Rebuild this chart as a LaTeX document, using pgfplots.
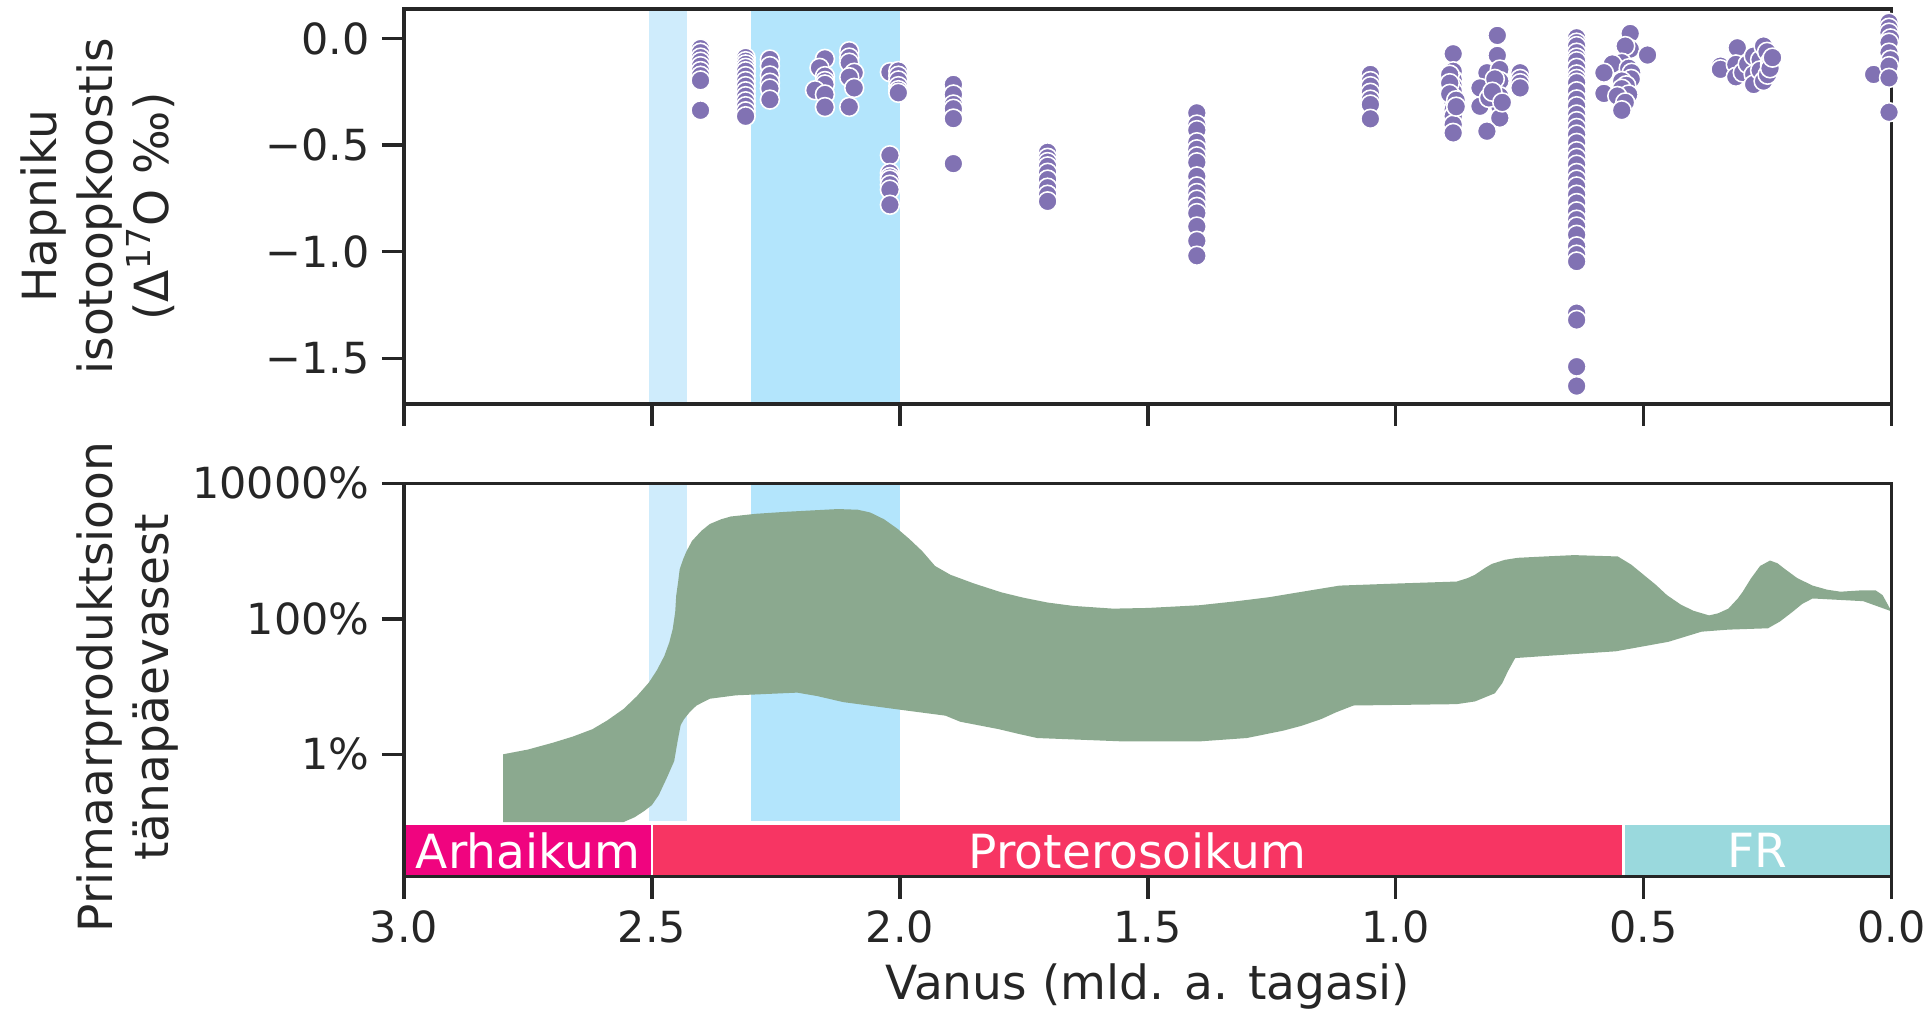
\documentclass[border=0pt]{standalone}
\usepackage{fontspec}
\setmainfont{DejaVu Sans}
\usepackage{pgfplots}
\pgfplotsset{compat=1.18}
\definecolor{axcol}{HTML}{262626}
\definecolor{purp}{HTML}{8172B3}
\definecolor{band}{HTML}{8BA98F}
\definecolor{blueA}{HTML}{CFECFC}
\definecolor{blueB}{HTML}{B3E5FC}
\definecolor{arch}{HTML}{F0047F}
\definecolor{prot}{HTML}{F73563}
\definecolor{phan}{HTML}{9AD9DD}
\pgfplotsset{
 myaxis/.style={
  scale only axis, width=148.75mm,
  xmin=0, xmax=3, x dir=reverse,
  axis on top, clip=true,
  axis line style={axcol, line width=0.95pt},
  tick align=outside, major tick length=2.2mm,
  every tick/.style={axcol, line width=1pt},
  tick pos=left,
  xtick={0,0.5,1,1.5,2,2.5,3},
  tick label style={font=\fontsize{12.2}{14}\selectfont, text=axcol},
  label style={font=\fontsize{13.4}{16}\selectfont, text=axcol, align=center},
  /pgf/number format/assume math mode=true,
 }
}
\pgfplotstableread{
x y
2.402 -0.048
2.402 -0.067
2.402 -0.090
2.402 -0.109
2.402 -0.130
2.402 -0.153
2.402 -0.175
2.402 -0.197
2.402 -0.337
2.311 -0.090
2.311 -0.107
2.311 -0.122
2.311 -0.138
2.311 -0.154
2.311 -0.177
2.311 -0.200
2.311 -0.224
2.311 -0.248
2.311 -0.271
2.311 -0.295
2.311 -0.318
2.311 -0.342
2.311 -0.365
2.262 -0.099
2.262 -0.130
2.262 -0.174
2.262 -0.208
2.262 -0.235
2.262 -0.287
2.151 -0.096
2.162 -0.138
2.151 -0.177
2.151 -0.200
2.151 -0.216
2.171 -0.243
2.151 -0.263
2.151 -0.322
2.102 -0.060
2.102 -0.090
2.102 -0.114
2.092 -0.161
2.102 -0.182
2.092 -0.232
2.102 -0.321
2.020 -0.158
2.003 -0.153
2.003 -0.175
2.003 -0.197
2.003 -0.224
2.003 -0.243
2.003 -0.255
2.020 -0.548
2.020 -0.631
2.020 -0.650
2.020 -0.662
2.020 -0.686
2.020 -0.709
2.020 -0.780
1.892 -0.216
1.892 -0.263
1.892 -0.310
1.892 -0.330
1.892 -0.376
1.892 -0.587
1.702 -0.534
1.702 -0.560
1.702 -0.580
1.702 -0.600
1.702 -0.630
1.702 -0.662
1.702 -0.700
1.702 -0.733
1.702 -0.764
1.401 -0.349
1.401 -0.404
1.401 -0.430
1.401 -0.487
1.401 -0.520
1.401 -0.553
1.401 -0.581
1.401 -0.647
1.401 -0.694
1.401 -0.725
1.401 -0.756
1.401 -0.790
1.401 -0.819
1.401 -0.882
1.401 -0.949
1.401 -1.019
1.051 -0.169
1.051 -0.200
1.051 -0.224
1.051 -0.255
1.051 -0.287
1.051 -0.310
1.051 -0.377
0.884 -0.072
0.884 -0.154
0.884 -0.193
0.884 -0.224
0.884 -0.248
0.884 -0.279
0.884 -0.302
0.884 -0.334
0.884 -0.365
0.884 -0.404
0.884 -0.443
0.891 -0.170
0.891 -0.210
0.891 -0.260
0.878 -0.290
0.878 -0.320
0.795 0.014
0.795 -0.080
0.816 -0.161
0.830 -0.232
0.830 -0.318
0.796 -0.224
0.790 -0.146
0.790 -0.200
0.790 -0.271
0.790 -0.318
0.790 -0.373
0.816 -0.435
0.812 -0.279
0.800 -0.190
0.805 -0.250
0.785 -0.300
0.749 -0.161
0.749 -0.190
0.749 -0.210
0.749 -0.232
0.635 0.003
0.635 -0.020
0.635 -0.036
0.635 -0.067
0.635 -0.090
0.635 -0.107
0.635 -0.138
0.635 -0.169
0.635 -0.190
0.635 -0.208
0.635 -0.248
0.635 -0.286
0.635 -0.318
0.635 -0.357
0.635 -0.388
0.635 -0.420
0.635 -0.451
0.635 -0.490
0.635 -0.529
0.635 -0.560
0.635 -0.592
0.635 -0.631
0.635 -0.662
0.635 -0.694
0.635 -0.733
0.635 -0.772
0.635 -0.811
0.635 -0.850
0.635 -0.882
0.635 -0.921
0.635 -0.975
0.635 -1.014
0.635 -1.046
0.635 -1.288
0.635 -1.320
0.635 -1.539
0.635 -1.630
0.527 0.023
0.527 -0.050
0.537 -0.036
0.492 -0.078
0.544 -0.114
0.563 -0.120
0.530 -0.140
0.580 -0.161
0.524 -0.161
0.525 -0.190
0.544 -0.200
0.535 -0.220
0.544 -0.236
0.580 -0.258
0.530 -0.263
0.553 -0.270
0.537 -0.300
0.544 -0.337
0.345 -0.130
0.345 -0.145
0.311 -0.044
0.314 -0.122
0.314 -0.180
0.300 -0.160
0.290 -0.120
0.278 -0.083
0.278 -0.169
0.278 -0.216
0.265 -0.100
0.265 -0.150
0.258 -0.036
0.258 -0.200
0.251 -0.063
0.250 -0.170
0.245 -0.110
0.245 -0.125
0.245 -0.140
0.240 -0.090
0.036 -0.169
0.005 0.074
0.005 0.050
0.005 0.027
0.002 0.000
0.005 -0.020
0.005 -0.067
0.002 -0.100
0.005 -0.130
0.005 -0.185
0.005 -0.346
}\isotope
\pgfplotstableread{
x y
2.800 -1.00
2.800 0.00
2.750 0.07
2.700 0.17
2.660 0.26
2.620 0.37
2.590 0.50
2.557 0.67
2.530 0.86
2.506 1.06
2.490 1.24
2.475 1.45
2.465 1.65
2.458 1.85
2.453 2.10
2.451 2.34
2.447 2.55
2.444 2.73
2.437 2.88
2.430 3.00
2.419 3.15
2.400 3.30
2.383 3.40
2.360 3.47
2.341 3.51
2.290 3.55
2.228 3.58
2.125 3.62
2.085 3.61
2.060 3.57
2.032 3.47
2.005 3.33
1.981 3.18
1.955 3.00
1.929 2.78
1.898 2.65
1.850 2.52
1.795 2.39
1.750 2.31
1.702 2.24
1.650 2.19
1.570 2.15
1.500 2.16
1.396 2.20
1.320 2.26
1.254 2.32
1.180 2.41
1.113 2.49
1.000 2.52
0.877 2.55
0.855 2.60
0.840 2.65
0.820 2.75
0.806 2.81
0.780 2.87
0.754 2.90
0.700 2.92
0.640 2.94
0.552 2.92
0.525 2.80
0.500 2.65
0.475 2.50
0.453 2.35
0.425 2.21
0.400 2.12
0.368 2.05
0.350 2.08
0.329 2.15
0.310 2.30
0.300 2.40
0.284 2.59
0.265 2.78
0.245 2.86
0.230 2.82
0.216 2.74
0.190 2.60
0.159 2.49
0.130 2.43
0.103 2.40
0.060 2.42
0.032 2.42
0.018 2.35
0.000 2.11
0.057 2.26
0.159 2.30
0.180 2.22
0.200 2.10
0.225 1.96
0.249 1.86
0.329 1.84
0.383 1.81
0.450 1.66
0.556 1.52
0.700 1.45
0.759 1.42
0.774 1.22
0.785 1.05
0.800 0.90
0.840 0.78
0.877 0.74
1.085 0.72
1.120 0.62
1.150 0.52
1.190 0.42
1.226 0.35
1.300 0.24
1.396 0.19
1.550 0.19
1.723 0.24
1.760 0.30
1.800 0.37
1.878 0.48
1.908 0.57
1.981 0.64
2.114 0.77
2.167 0.86
2.207 0.91
2.331 0.87
2.383 0.82
2.410 0.72
2.424 0.62
2.435 0.52
2.442 0.43
2.448 0.20
2.455 -0.10
2.470 -0.35
2.486 -0.60
2.500 -0.75
2.516 -0.84
2.535 -0.93
2.557 -1.00
}\production
\begin{document}
\begin{tikzpicture}
\path[use as bounding box] (0,0) rectangle (193.2mm,101.1mm);
% ---------- top panel
\begin{axis}[myaxis,
  at={(40.4mm,60.7mm)}, anchor=south west, height=39.5mm,
  ymin=-1.714, ymax=0.138,
  xticklabels={},
  ytick={-1.5,-1,-0.5,0},
  yticklabels={−1.5,−1.0,−0.5,0.0},
  ylabel={Hapniku\\isotoopkoostis\\(Δ\textsuperscript{17}O ‰)},
  ylabel style={at={(axis description cs:-0.206,0.5)}, anchor=center},
]
\addplot[fill=blueA, draw=none] coordinates {(2.505,-2) (2.43,-2) (2.43,1) (2.505,1)} -- cycle;
\addplot[fill=blueB, draw=none] coordinates {(2.3,-2) (2.0,-2) (2.0,1) (2.3,1)} -- cycle;
\addplot[only marks, mark=*, mark size=2.7pt, mark options={fill=purp, draw=white, line width=0.45pt}] table[x=x,y=y] {\isotope};
\end{axis}
% ---------- bottom panel
\begin{axis}[myaxis,
  at={(40.4mm,13.43mm)}, anchor=south west, height=39.34mm,
  ymin=-1.807, ymax=4.0,
  xticklabels={0.0,0.5,1.0,1.5,2.0,2.5,3.0},
  ytick={0,2,4},
  yticklabels={1\%,100\%,10000\%},
  xlabel={Vanus (mld. a. tagasi)},
  xlabel style={at={(axis description cs:0.5,-0.311)}, anchor=base},
  ylabel={Primaarproduktsioon\\tänapäevasest},
  ylabel style={at={(axis description cs:-0.186,0.482)}, anchor=center},
]
\addplot[fill=blueA, draw=none] coordinates {(2.505,-0.985) (2.43,-0.985) (2.43,4.2) (2.505,4.2)} -- cycle;
\addplot[fill=blueB, draw=none] coordinates {(2.3,-0.985) (2.0,-0.985) (2.0,4.2) (2.3,4.2)} -- cycle;
\addplot[fill=band, draw=none] table[x=x,y=y] {\production} -- cycle;
\addplot[fill=arch, draw=none] coordinates {(3.05,-1.9) (2.5,-1.9) (2.5,-1.04) (3.05,-1.04)} -- cycle;
\addplot[fill=prot, draw=none] coordinates {(2.5,-1.9) (0.541,-1.9) (0.541,-1.04) (2.5,-1.04)} -- cycle;
\addplot[fill=phan, draw=none] coordinates {(0.541,-1.9) (-0.05,-1.9) (-0.05,-1.04) (0.541,-1.04)} -- cycle;
\addplot[white, line width=0.8pt] coordinates {(2.5,-1.9) (2.5,-1.04)};
\addplot[white, line width=0.8pt] coordinates {(0.541,-1.9) (0.541,-1.04)};
\node[text=white, font=\fontsize{13.4}{16}\selectfont] at (axis cs:2.75,-1.42) {Arhaikum};
\node[text=white, font=\fontsize{13.4}{16}\selectfont] at (axis cs:1.5205,-1.42) {Proterosoikum};
\node[text=white, font=\fontsize{13.4}{16}\selectfont] at (axis cs:0.2705,-1.42) {FR};
\end{axis}
\end{tikzpicture}
\end{document}
